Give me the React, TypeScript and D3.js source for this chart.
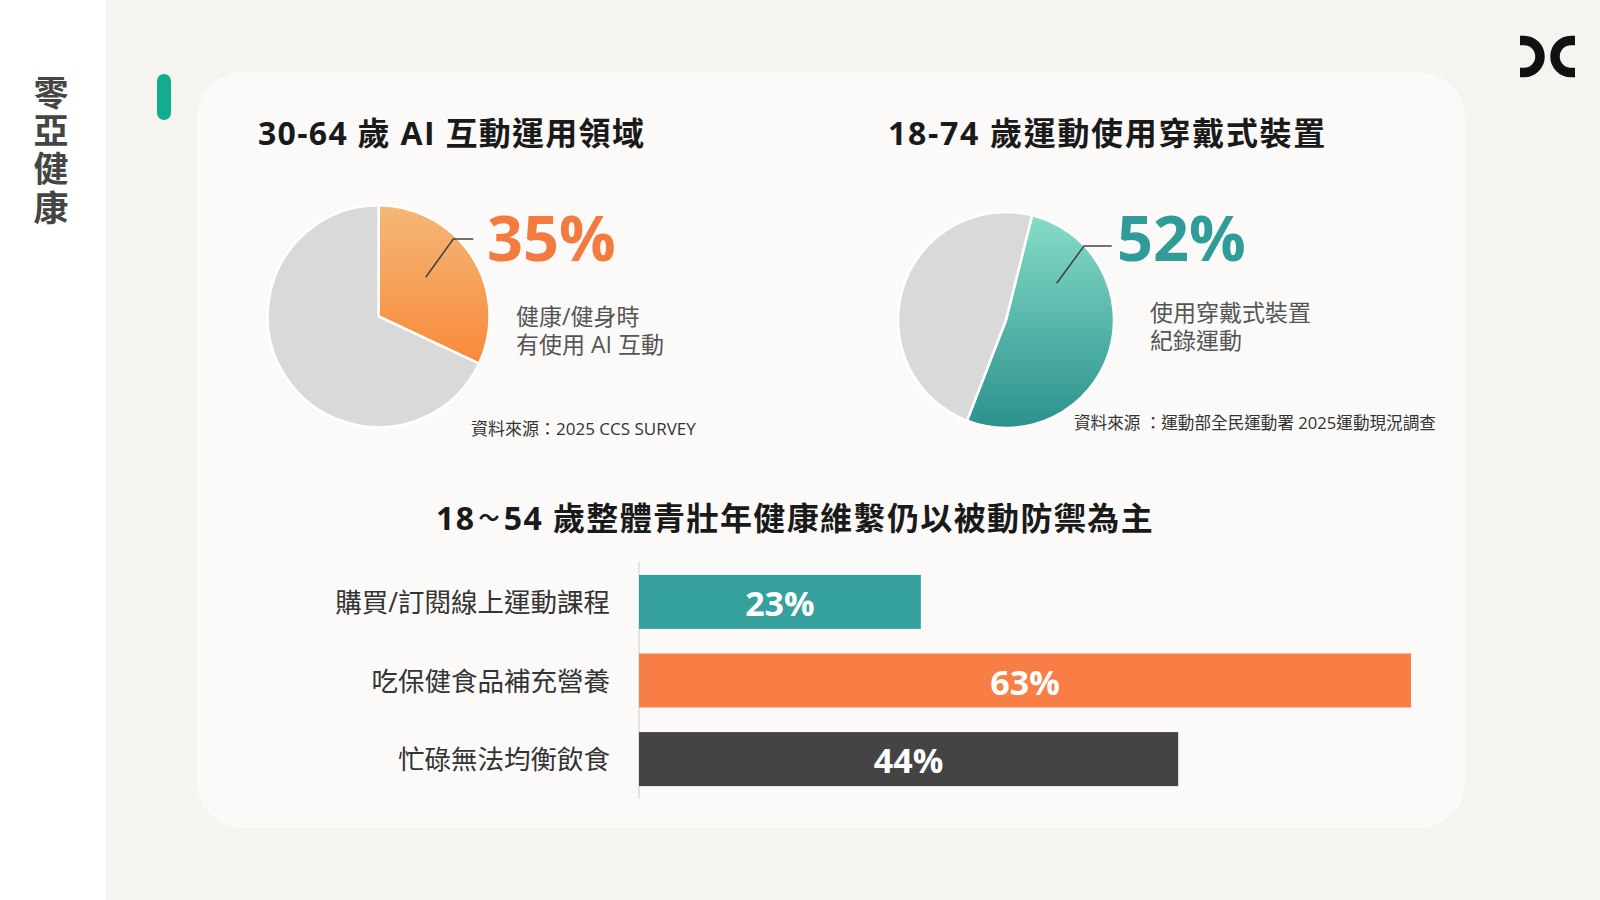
import React from "react";
import * as d3 from "d3";

// ---- data ----
const sideTitle = "零亞健康";

const aiTitle = "30-64 歲 AI 互動運用領域";
const aiLabel = "35%";
const aiDesc = ["健康/健身時", "有使用 AI 互動"];
const aiSource = "資料來源：2025 CCS SURVEY";
const aiSlices = [
  { name: "有使用 AI", value: 32 },
  { name: "其他", value: 68 },
];

const wearTitle = "18-74 歲運動使用穿戴式裝置";
const wearLabel = "52%";
const wearDesc = ["使用穿戴式裝置", "紀錄運動"];
const wearSource = "資料來源 ：運動部全民運動署 2025運動現況調查";
const wearSlices = [
  { name: "使用穿戴式裝置", value: 52 },
  { name: "其他", value: 48 },
];

const barTitleParts = ["18", "～", "54 歲整體青壯年健康維繫仍以被動防禦為主"];
const barCategories = ["購買/訂閱線上運動課程", "吃保健食品補充營養", "忙碌無法均衡飲食"];
const barValues = [23, 63, 44];
const barColors = ["#35a19d", "#f97e45", "#444444"];

const FONT = "'Open Sans', 'Noto Sans CJK TC', sans-serif";

export default function App() {
  // pie 1
  const pie1c = { x: 378.6, y: 316.3, r: 111 };
  const pie1 = d3.pie<any>().sort(null).value((d: any) => d.value)(aiSlices);
  const arc1 = d3.arc<any>().innerRadius(0).outerRadius(pie1c.r);

  // pie 2
  const pie2c = { x: 1006, y: 320, r: 108 };
  const off = (14 * Math.PI) / 180;
  const pie2 = d3
    .pie<any>()
    .sort(null)
    .startAngle(off)
    .endAngle(off + 2 * Math.PI)
    .value((d: any) => d.value)(wearSlices);
  const arc2 = d3.arc<any>().innerRadius(0).outerRadius(pie2c.r);

  // bars
  const x = d3.scaleLinear().domain([0, 63]).range([639, 1411]);
  const y = d3
    .scaleBand<string>()
    .domain(barCategories)
    .range([562, 799])
    .paddingInner(0.313)
    .paddingOuter(0.164);

  const line1 = d3.line()([
    [425.7, 277.3],
    [453.3, 239],
    [473.3, 239],
  ]);
  const line2 = d3.line()([
    [1056.7, 283.3],
    [1084, 246],
    [1111.7, 246],
  ]);

  return (
    <svg
      width={1600}
      height={900}
      style={{ position: "absolute", left: 0, top: 0 }}
      fontFamily={FONT}
    >
      <defs>
        <linearGradient id="gOrange" x1="0" y1="0" x2="0" y2="1">
          <stop offset="0" stopColor="#f5b777" />
          <stop offset="1" stopColor="#f88a3b" />
        </linearGradient>
        <linearGradient id="gTeal" x1="0" y1="0" x2="0" y2="1">
          <stop offset="0" stopColor="#86dcc8" />
          <stop offset="1" stopColor="#2b918d" />
        </linearGradient>
      </defs>
      <rect x={0} y={0} width={1600} height={900} fill="#f5f4f1" />
      <rect x={0} y={0} width={106} height={900} fill="#ffffff" />

      <text
        x={49}
        y={75}
        style={{ writingMode: "vertical-rl" }}
        fontSize={35}
        fontWeight={700}
        letterSpacing={3.3}
        fill="#454545"
      >
        {sideTitle}
      </text>

      <rect x={157} y={74} width={14} height={46} rx={7} fill="#12ad8c" />

      {/* logo */}
      <path d="M1520 40.5 H1524 A16 16 0 0 1 1524 72.5 H1520" fill="none" stroke="#111" strokeWidth={9.5} />
      <path d="M1575 40.5 H1571 A16 16 0 0 0 1571 72.5 H1575" fill="none" stroke="#111" strokeWidth={9.5} />

      <rect x={197} y={72} width={1268} height={756} rx={46} fill="#fbfaf9" />

      {/* titles */}
      <text x={258} y={132.5} dominantBaseline="central" fontSize={32} fontWeight={700} letterSpacing={1.3} fill="#1a1a1a">
        {aiTitle}
      </text>
      <text x={888} y={132.5} dominantBaseline="central" fontSize={32} fontWeight={700} letterSpacing={1.7} fill="#1a1a1a">
        {wearTitle}
      </text>

      {/* pie 1 */}
      <g transform={`translate(${pie1c.x},${pie1c.y})`}>
        {pie1.map((a, i) => (
          <path
            key={i}
            d={arc1(a) as string}
            fill={i === 0 ? "url(#gOrange)" : "#d9d9d9"}
            stroke="#ffffff"
            strokeWidth={2.5}
            strokeLinejoin="round"
          />
        ))}
      </g>
      <path d={line1 as string} fill="none" stroke="#444" strokeWidth={1.6} />
      <text x={487} y={261} fontSize={63} fontWeight={700} fill="#f47b3f">
        {aiLabel}
      </text>
      <text y={315.5} dominantBaseline="central" fontSize={23} fill="#555">
        {aiDesc.map((t, i) => (
          <tspan key={t} x={516} dy={i === 0 ? 0 : 28.5}>
            {t}
          </tspan>
        ))}
      </text>
      <text x={471} y={428.5} dominantBaseline="central" fontSize={17} fill="#333">
        {aiSource}
      </text>

      {/* pie 2 */}
      <g transform={`translate(${pie2c.x},${pie2c.y})`}>
        {pie2.map((a, i) => (
          <path
            key={i}
            d={arc2(a) as string}
            fill={i === 0 ? "url(#gTeal)" : "#d9d9d9"}
            stroke="#ffffff"
            strokeWidth={2.5}
            strokeLinejoin="round"
          />
        ))}
      </g>
      <path d={line2 as string} fill="none" stroke="#444" strokeWidth={1.6} />
      <text x={1117} y={261} fontSize={63} fontWeight={700} fill="#2f9c97">
        {wearLabel}
      </text>
      <text y={311.5} dominantBaseline="central" fontSize={23} fill="#555">
        {wearDesc.map((t, i) => (
          <tspan key={t} x={1150} dy={i === 0 ? 0 : 28}>
            {t}
          </tspan>
        ))}
      </text>
      <text x={1074} y={422.5} dominantBaseline="central" fontSize={16.6} fill="#333">
        {wearSource}
      </text>

      {/* bar chart */}
      <text x={436} y={517} dominantBaseline="central" fontSize={32} fontWeight={700} letterSpacing={1.4} fill="#1a1a1a">
        <tspan>{barTitleParts[0]}</tspan>
        <tspan fontSize={21} dx={3}>{barTitleParts[1]}</tspan>
        <tspan dx={3}>{barTitleParts[2]}</tspan>
      </text>
      <line x1={639} x2={639} y1={562} y2={799} stroke="#d6d6d6" strokeWidth={1.2} />
      {barCategories.map((c, i) => (
        <g key={c}>
          <rect
            x={x(0)}
            y={y(c)}
            width={x(barValues[i]) - x(0)}
            height={y.bandwidth()}
            fill={barColors[i]}
          />
          <text
            x={610}
            y={(y(c) as number) + y.bandwidth() / 2}
            textAnchor="end"
            dominantBaseline="central"
            fontSize={26.5}
            fill="#333"
          >
            {c}
          </text>
          <text
            x={(x(0) + x(barValues[i])) / 2}
            y={(y(c) as number) + y.bandwidth() / 2 + 1}
            textAnchor="middle"
            dominantBaseline="central"
            fontSize={34}
            fontWeight={700}
            fill="#ffffff"
          >
            {barValues[i]}%
          </text>
        </g>
      ))}
    </svg>
  );
}
